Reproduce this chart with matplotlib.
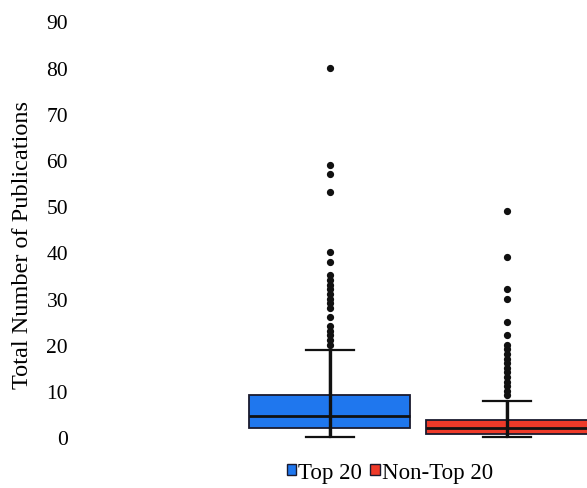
import matplotlib
matplotlib.use('Agg')
import matplotlib.pyplot as plt
from matplotlib.patches import Patch

# ---- data ----
groups = ['Top 20', 'Non-Top 20']
whisker_low = [0, 0]
q1 = [1.9, 0.7]
median = [4.6, 1.9]
q3 = [9.0, 3.7]
whisker_high = [18.8, 7.9]
outliers_top20 = [20, 21, 22, 23, 24, 26, 28, 29, 30, 31, 32, 33, 34, 35, 38, 40, 53, 57, 59, 80]
outliers_non_top20 = [9, 10, 11, 12, 13, 14, 15, 16, 17, 18, 19, 20, 22, 25, 30, 32, 39, 49]
yticks = [0, 10, 20, 30, 40, 50, 60, 70, 80, 90]

colors = ['#1F77EE', '#EE3A29']
edge = '#1a1a2e'
serif = ['Liberation Serif', 'DejaVu Serif']

fig = plt.figure(figsize=(5.87, 4.89), dpi=100)
ax = fig.add_axes([75 / 587, 0.0806, 1 - 75 / 587, 0.8734])

stats = []
for i, g in enumerate(groups):
    stats.append(dict(label=g, whislo=whisker_low[i], q1=q1[i], med=median[i],
                      q3=q3[i], whishi=whisker_high[i],
                      fliers=[outliers_top20, outliers_non_top20][i]))

positions = [1, 2]
bp = ax.bxp(stats, positions=positions, widths=0.91, capwidths=0.27,
            patch_artist=True, showfliers=True,
            boxprops=dict(linewidth=1.3, edgecolor=edge),
            medianprops=dict(color='#111111', linewidth=2.0),
            whiskerprops=dict(color='#111111', linewidth=1.6),
            capprops=dict(color='#111111', linewidth=1.6),
            flierprops=dict(marker='o', markersize=4.2, markerfacecolor='#111111',
                            markeredgecolor='#111111', linestyle='none'))
for patch, c in zip(bp['boxes'], colors):
    patch.set_facecolor(c)

# dense inner points appear as a dark line through each box
for i, p in enumerate(positions):
    ax.plot([p, p], [whisker_low[i], whisker_high[i]], color='#111111',
            linewidth=2.4, zorder=4, solid_capstyle='butt')

ax.set_xlim(-0.44, 2.452)
ax.set_ylim(-2.5, 90)
ax.set_yticks(yticks)
ax.set_yticklabels([str(t) for t in yticks], fontfamily=serif, fontsize=15.5)
ax.set_xticks([])
ax.tick_params(axis='y', length=0, pad=5)
for s in ax.spines.values():
    s.set_visible(False)

fig.text(23 / 587, 0.499, 'Total Number of Publications', rotation=90,
         ha='center', va='center', fontfamily=serif, fontsize=17.5)

handles = [Patch(facecolor=c, edgecolor=edge, linewidth=1.0) for c in colors]
fig.legend(handles, groups, loc='center', bbox_to_anchor=(390 / 587, 0.032),
           ncol=2, frameon=False, handlelength=0.4, handleheight=0.4,
           handletextpad=0.12, columnspacing=0.35,
           prop=dict(family=serif, size=16.5))

fig.savefig('out.png', dpi=100, facecolor='white')
